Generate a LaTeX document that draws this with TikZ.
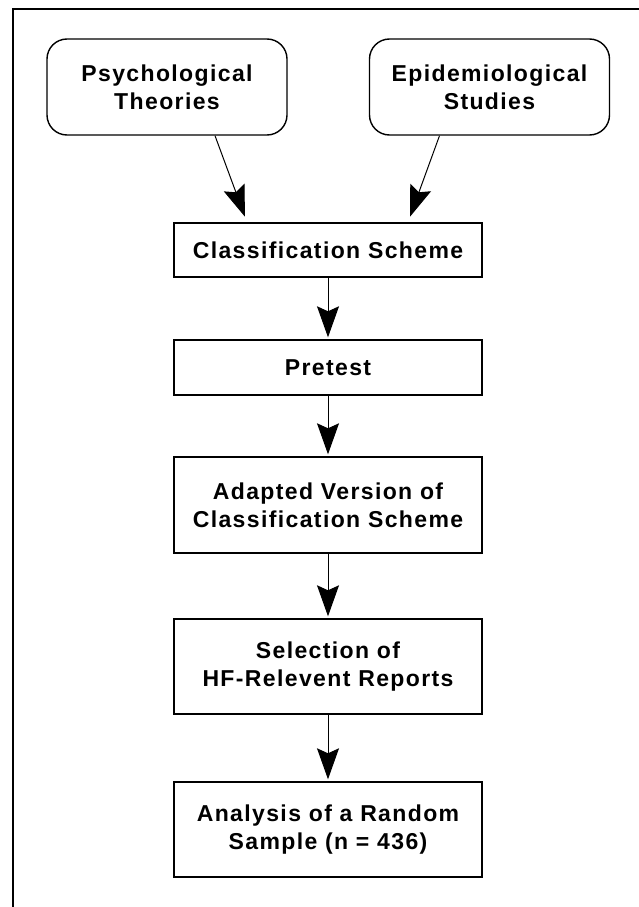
\documentclass[tikz,border=0pt]{standalone}
\usepackage{fontspec}
\setmainfont{Liberation Sans}[LetterSpace=6]
\usetikzlibrary{arrows.meta}

\begin{document}
\begin{tikzpicture}[
  x=1pt, y=-1pt,
  every node/.style={draw, line width=1.4pt, inner sep=0pt, align=center,
    font=\bfseries\fontsize{23}{28}\selectfont},
  roundbox/.style={rounded corners=20pt, minimum width=240pt, minimum height=96pt},
  stepbox/.style={minimum width=308pt},
  arr/.style={-{Stealth[length=31pt,width=22pt,inset=5pt]}, line width=1pt}
]
\useasboundingbox (0,0) rectangle (639,907);
% frame, open on the right and at the bottom
\draw[line width=2pt] (13,907) -- (13,9) -- (639,9);

% sources
\node[roundbox] (psych) at (167,87) {Psychological\\Theories};
\node[roundbox] (epid) at (489.5,87) {Epidemiological\\Studies};

% steps
\node[stepbox, minimum height=54pt] (class) at (328,250) {Classification Scheme};
\node[stepbox, minimum height=55pt] (pretest) at (328,367.5) {Pretest};
\node[stepbox, minimum height=96pt] (adapted) at (328,505) {Adapted Version of\\Classification Scheme};
\node[stepbox, minimum height=95pt] (select) at (328,666.5) {Selection of\\HF-Relevent Reports};
\node[stepbox, minimum height=95pt] (analysis) at (328,829.5) {Analysis of a Random\\Sample (n = 436)};

% connectors
\draw[arr, shorten >=6pt] ([xshift=48pt]psych.south) -- ([xshift=-81pt]class.north);
\draw[arr, shorten >=6pt] ([xshift=-50pt]epid.south) -- ([xshift=80pt]class.north);
\foreach \a/\b in {class/pretest, pretest/adapted, adapted/select, select/analysis}
  \draw[arr, shorten >=2pt] (\a) -- (\b);
\end{tikzpicture}
\end{document}
